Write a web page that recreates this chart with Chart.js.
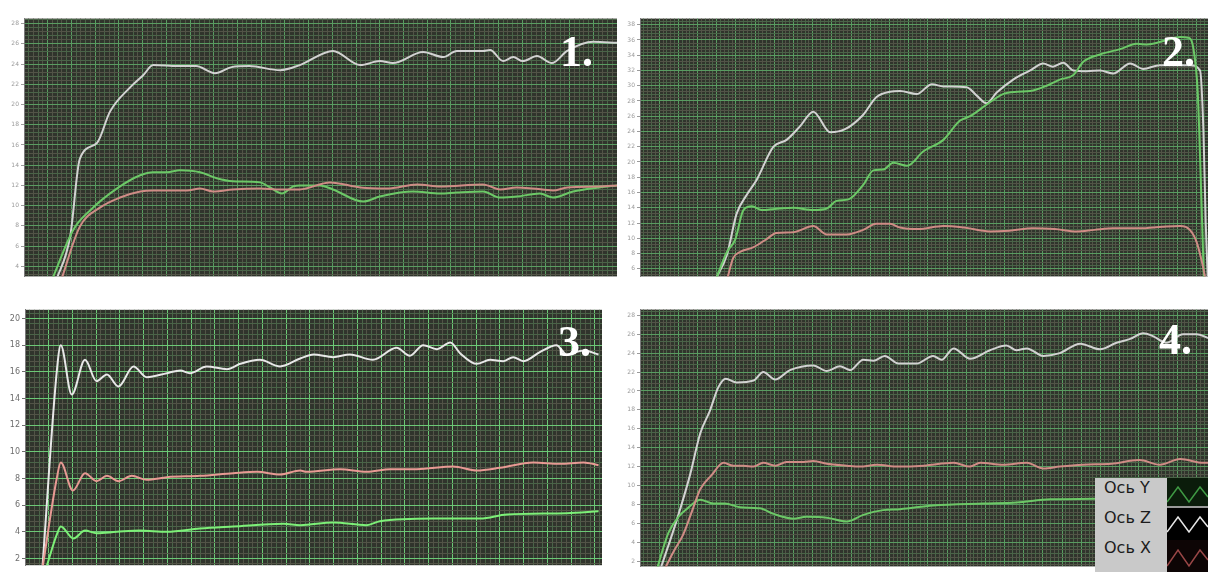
<!DOCTYPE html>
<html>
<head>
<meta charset="utf-8">
<script src="https://cdn.jsdelivr.net/npm/chart.js@4/dist/chart.umd.min.js"></script>
<style>
  body { margin: 0; background: #fff; width: 1208px; height: 572px; overflow: hidden; position: relative; }
  canvas { position: absolute; }
  .num { position: absolute; font: bold 44px "Liberation Serif", serif; color: #fff; line-height: 44px; z-index: 2; }
  #legend { position: absolute; left: 1095px; top: 478px; width: 113px; height: 94px; z-index: 3; }
  #legend .txt { position: absolute; left: 0; top: 0; width: 72px; height: 94px; background: #c9c9c9; }
  #legend .txt div { height: 30px; line-height: 30px; padding-left: 9px; font: 16px "DejaVu Sans", sans-serif; color: #1c1c1c; }
  #legend svg { position: absolute; left: 72px; display: block; }
</style>
</head>
<body>
<canvas id="c1" width="617" height="269" style="left:0;top:13px"></canvas>
<canvas id="c2" width="590" height="269" style="left:618px;top:13px"></canvas>
<canvas id="c3" width="602" height="269" style="left:0;top:303px"></canvas>
<canvas id="c4" width="590" height="268" style="left:618px;top:304px"></canvas>

<div class="num" style="left:560px;top:30px">1.</div>
<div class="num" style="left:1162px;top:30px">2.</div>
<div class="num" style="left:558px;top:320px">3.</div>
<div class="num" style="left:1159px;top:318px">4.</div>

<div id="legend">
  <div class="txt"><div>Ось Y</div><div>Ось Z</div><div>Ось X</div></div>
  <svg width="41" height="30" style="top:0"><rect width="41" height="30" fill="#0b1c0b"/><polyline points="0,24 11,9 22,24 33,9 41,19" fill="none" stroke="#3f9a44" stroke-width="1.5"/><rect y="28" width="41" height="2" fill="#9a9a9a"/></svg>
  <svg width="41" height="32" style="top:30px"><rect width="41" height="32" fill="#000"/><polyline points="0,24 11,9 22,24 33,9 41,19" fill="none" stroke="#e6e6e6" stroke-width="1.5"/></svg>
  <svg width="41" height="32" style="top:62px"><rect width="41" height="32" fill="#0d0505"/><polyline points="0,26 11,10 22,26 33,10 41,20" fill="none" stroke="#9a4747" stroke-width="1.5"/></svg>
</div>

<script>
// values: [sweep position in % of visible width, value]
const p1Red   = [[6.2,2.5],[9.4,7.9],[12.8,9.8],[16.2,10.8],[19.6,11.4],[21.8,11.5],[27.5,11.5],[29.7,11.7],[31.9,11.4],[35.2,11.6],[39.8,11.7],[43.2,11.6],[46.5,11.6],[51.6,12.3],[56.7,11.8],[61.2,11.7],[66.3,12.1],[70.2,11.9],[77.4,12.1],[80.3,11.6],[83.1,11.8],[85.8,11.7],[89.2,11.5],[91.6,11.8],[97.1,11.9],[100,12.0]];
const p1Green = [[4.6,2.5],[8.3,7.6],[11.1,9.5],[15.7,11.7],[19.6,13.0],[21.8,13.3],[24.1,13.3],[26.3,13.5],[29.7,13.3],[32.5,12.7],[35.2,12.4],[39.8,12.3],[41.5,11.8],[43.5,11.2],[45.4,11.9],[46.5,12.0],[49.9,12.0],[52.1,11.6],[57.2,10.4],[60.0,10.9],[63.4,11.3],[65.6,11.4],[70.2,11.2],[73.0,11.3],[77.4,11.4],[80.3,10.8],[83.1,10.9],[87.0,11.2],[89.2,10.8],[92.6,11.4],[97.1,11.8],[100,12.0]];
const p1White = [[5.3,2.4],[7.8,7.0],[9.4,14.6],[12.3,16.2],[14.5,19.3],[17.9,21.7],[20.1,22.9],[21.8,23.9],[26.0,23.8],[29.0,23.8],[32.2,23.1],[35.0,23.7],[38.0,23.8],[43.2,23.4],[46.5,23.9],[52.1,25.3],[56.7,23.9],[60.0,24.3],[62.2,24.1],[67.3,25.2],[70.7,24.7],[73.0,25.3],[77.4,25.3],[78.6,25.4],[80.8,24.3],[82.5,24.7],[84.1,24.3],[86.5,24.8],[89.0,24.1],[91.6,25.3],[96.0,26.2],[100,26.1]];

const p2Red   = [[15.3,4.5],[16.4,7.4],[17.6,8.2],[19.9,8.8],[22.3,9.9],[24.0,10.7],[27.0,10.8],[30.5,11.6],[32.9,10.5],[36.4,10.5],[39.3,11.1],[41.6,11.9],[44.0,11.9],[45.8,11.4],[49.0,11.2],[53.4,11.6],[57.0,11.4],[61.6,10.9],[65.0,11.0],[69.2,11.3],[73.0,11.2],[76.9,10.9],[80.0,11.1],[83.3,11.3],[88.0,11.3],[92.0,11.5],[95.1,11.6],[96.8,11.1],[98.0,9.5],[98.9,7.0],[99.6,4.5]];
const p2Green = [[13.3,4.5],[15.3,8.2],[16.8,9.9],[18.2,13.7],[19.7,14.2],[21.4,13.7],[24.6,13.9],[27.0,14.0],[30.5,13.7],[32.9,13.9],[34.6,14.9],[36.7,15.1],[39.3,17.0],[41.1,18.9],[42.8,19.0],[44.6,19.9],[47.0,19.5],[49.9,21.4],[53.4,22.9],[56.3,25.4],[58.1,26.0],[61.0,27.5],[63.9,28.9],[66.4,29.2],[68.7,29.3],[71.6,30.0],[73.9,30.8],[76.3,31.4],[78.0,33.1],[81.0,34.1],[84.5,34.8],[87.5,35.5],[89.3,35.4],[92.8,36.0],[95.1,36.4],[96.5,36.3],[97.4,35.0],[98.2,29.0],[98.8,16.0],[99.3,4.0]];
const p2White = [[13.2,4.5],[15.3,7.8],[17.0,13.2],[18.8,15.7],[20.5,17.6],[23.5,22.0],[25.8,22.9],[28.2,24.7],[30.5,26.6],[33.5,23.9],[36.1,24.3],[39.3,26.2],[41.6,28.5],[44.0,29.2],[45.8,29.3],[48.7,28.9],[51.4,30.2],[53.4,29.9],[57.5,29.8],[59.3,28.7],[61.0,27.7],[62.8,29.1],[65.7,30.8],[68.7,32.0],[71.0,32.9],[72.7,32.5],[74.5,33.0],[76.3,32.0],[78.7,31.9],[81.0,32.0],[83.3,31.6],[86.3,32.9],[88.6,32.2],[91.5,32.7],[96.8,32.7],[98.6,32.0],[99.2,24.0],[99.6,12.0],[100,4.0]];

const p3Red   = [[3.0,1.2],[5.5,8.0],[6.2,9.2],[8.3,7.1],[10.4,8.4],[12.4,7.8],[14.2,8.2],[16.2,7.8],[18.5,8.2],[21.1,7.9],[24.6,8.1],[30.3,8.2],[36.1,8.4],[40.2,8.5],[44.2,8.3],[47.7,8.6],[48.8,8.5],[54.6,8.7],[59.2,8.5],[63.3,8.7],[67.9,8.7],[74.2,8.9],[78.3,8.6],[82.3,8.8],[88.1,9.2],[92.7,9.1],[96.8,9.2],[99.4,9.0]];
const p3Green = [[3.6,1.2],[5.6,3.9],[6.2,4.4],[8.4,3.5],[10.4,4.1],[12.4,3.9],[15.9,4.0],[19.9,4.1],[24.6,4.0],[30.3,4.25],[36.1,4.4],[44.8,4.6],[47.7,4.5],[53.4,4.7],[59.2,4.5],[61.5,4.8],[70.8,5.0],[78.9,5.0],[83.5,5.3],[93.9,5.4],[99.4,5.55]];
const p3White = [[3.0,1.2],[5.5,16.0],[6.2,18.0],[8.1,14.3],[10.4,16.9],[12.4,15.3],[14.2,15.8],[16.2,14.9],[18.8,16.4],[21.1,15.6],[24.6,15.9],[26.9,16.1],[28.6,15.9],[31.5,16.4],[35.0,16.2],[37.3,16.6],[40.7,16.9],[44.2,16.4],[47.7,17.0],[50.0,17.3],[53.4,17.1],[56.3,17.3],[60.3,16.9],[64.4,17.8],[66.7,17.2],[69.0,18.0],[71.4,17.7],[73.7,18.2],[75.4,17.4],[78.3,16.6],[80.6,16.9],[82.9,16.8],[84.6,17.1],[86.4,16.8],[89.3,17.5],[92.1,18.0],[93.9,17.3],[96.8,17.6],[99.4,17.3]];

const p4Red   = [[4.2,1.0],[5.9,3.0],[7.6,4.8],[9.4,7.7],[10.6,9.6],[12.6,11.1],[14.7,12.4],[16.4,12.1],[18.2,12.1],[20.0,12.0],[21.7,12.4],[23.8,12.1],[25.8,12.5],[28.8,12.5],[30.5,12.6],[32.9,12.3],[36.4,12.1],[38.7,12.0],[41.7,12.2],[45.5,12.0],[50.0,12.1],[55.2,12.4],[58.1,12.0],[59.9,12.4],[63.9,12.2],[68.1,12.4],[71.0,11.8],[73.9,12.0],[78.0,12.2],[83.0,12.3],[87.9,12.7],[91.5,12.2],[95.1,12.8],[99.2,12.4],[100,12.4]];
const p4Green = [[2.9,1.0],[5.0,5.0],[6.8,6.7],[8.2,7.5],[10.6,8.5],[12.9,8.1],[15.0,8.1],[17.6,7.7],[21.1,7.6],[23.5,7.0],[27.0,6.5],[29.3,6.7],[32.9,6.6],[36.4,6.2],[39.3,6.9],[42.8,7.4],[45.8,7.5],[51.6,7.9],[60.4,8.1],[66.3,8.2],[72.2,8.55],[80.1,8.6],[90.0,8.8],[100,9.0]];
const p4White = [[3.5,1.0],[6.5,6.4],[8.8,11.1],[10.6,15.5],[12.3,17.9],[13.8,20.4],[15.1,21.3],[17.0,20.9],[20.0,21.1],[21.7,22.0],[23.8,21.2],[26.4,22.2],[30.5,22.7],[32.9,22.1],[35.2,22.6],[37.0,22.2],[39.3,23.3],[41.1,23.2],[43.1,23.7],[45.5,22.9],[48.7,22.9],[51.6,23.7],[53.1,23.3],[55.2,24.5],[58.1,23.4],[61.6,24.3],[64.5,24.8],[66.3,24.3],[68.1,24.5],[71.0,23.7],[73.9,24.0],[77.5,25.0],[81.0,24.4],[83.9,25.1],[86.3,25.5],[88.6,26.1],[90.3,25.8],[92.7,25.1],[95.6,26.0],[98.0,26.0],[100,25.6]];

// visible y range of every screen
const p1Range = [3.0, 28.5];
const p2Range = [5.0, 38.8];
const p3Range = [1.5, 20.65];
const p4Range = [1.45, 28.6];

const plotBg = {
  id: 'plotBg',
  beforeDraw(chart) {
    const a = chart.chartArea, ctx = chart.ctx;
    ctx.save();
    ctx.fillStyle = '#30342c';
    ctx.fillRect(a.left, a.top, a.right - a.left, a.bottom - a.top);
    ctx.restore();
  }
};

function isMajor(v, step) {
  const r = v / step;
  return Math.abs(r - Math.round(r)) < 1e-6;
}

function panel(id, yWidth, divs, range, red, green, white, look) {
  const toXY = pts => pts.map(p => ({ x: p[0] * divs / 100, y: p[1] }));
  const gridColor = step => ctx => {
    if (!ctx.tick) return 'transparent';
    if (isMajor(ctx.tick.value, step)) return look.major;
    return ctx.index % 2 ? '#4a6448' : '#525447';
  };
  new Chart(id, {
    type: 'line',
    data: {
      datasets: [
        { data: toXY(red), borderColor: look.red },
        { data: toXY(green), borderColor: look.green },
        { data: toXY(white), borderColor: look.white }
      ]
    },
    options: {
      responsive: false,
      animation: false,
      devicePixelRatio: 1,
      layout: { padding: 0 },
      datasets: { line: { borderWidth: 2, pointRadius: 0, cubicInterpolationMode: 'monotone' } },
      plugins: { legend: { display: false }, tooltip: { enabled: false } },
      scales: {
        x: {
          type: 'linear', min: 0, max: divs,
          afterFit: s => { s.height = 0; },
          ticks: { display: false, stepSize: 0.2, autoSkip: false, includeBounds: false },
          grid: { color: gridColor(1), drawTicks: false },
          border: { display: false }
        },
        y: {
          min: range[0], max: range[1],
          afterFit: s => { s.width = yWidth; },
          ticks: {
            stepSize: 0.4, autoSkip: false, includeBounds: false, padding: 2,
            color: look.label, font: { size: look.labelSize, family: 'DejaVu Sans' },
            callback: v => isMajor(v, 2) ? String(Math.round(v)) : ''
          },
          grid: {
            color: gridColor(2), tickLength: 3,
            tickColor: ctx => ctx.tick && isMajor(ctx.tick.value, 2) ? look.label : 'transparent'
          },
          border: { color: '#7a7a7a' }
        }
      }
    },
    plugins: [plotBg]
  });
}

const dim = { major: '#599c61', red: '#cf8c86', green: '#6cc867', white: '#d2d2d2', label: '#9a9a9a', labelSize: 6 };
const bright = { major: '#6cc876', red: '#e89a94', green: '#7df078', white: '#e8e8e8', label: '#6e6e6e', labelSize: 8 };

panel('c1', 24, 25, p1Range, p1Red, p1Green, p1White, dim);
panel('c2', 22, 29.6, p2Range, p2Red, p2Green, p2White, dim);
panel('c3', 25, 24.3, p3Range, p3Red, p3Green, p3White, bright);
panel('c4', 22, 29.6, p4Range, p4Red, p4Green, p4White, dim);
</script>
</body>
</html>
